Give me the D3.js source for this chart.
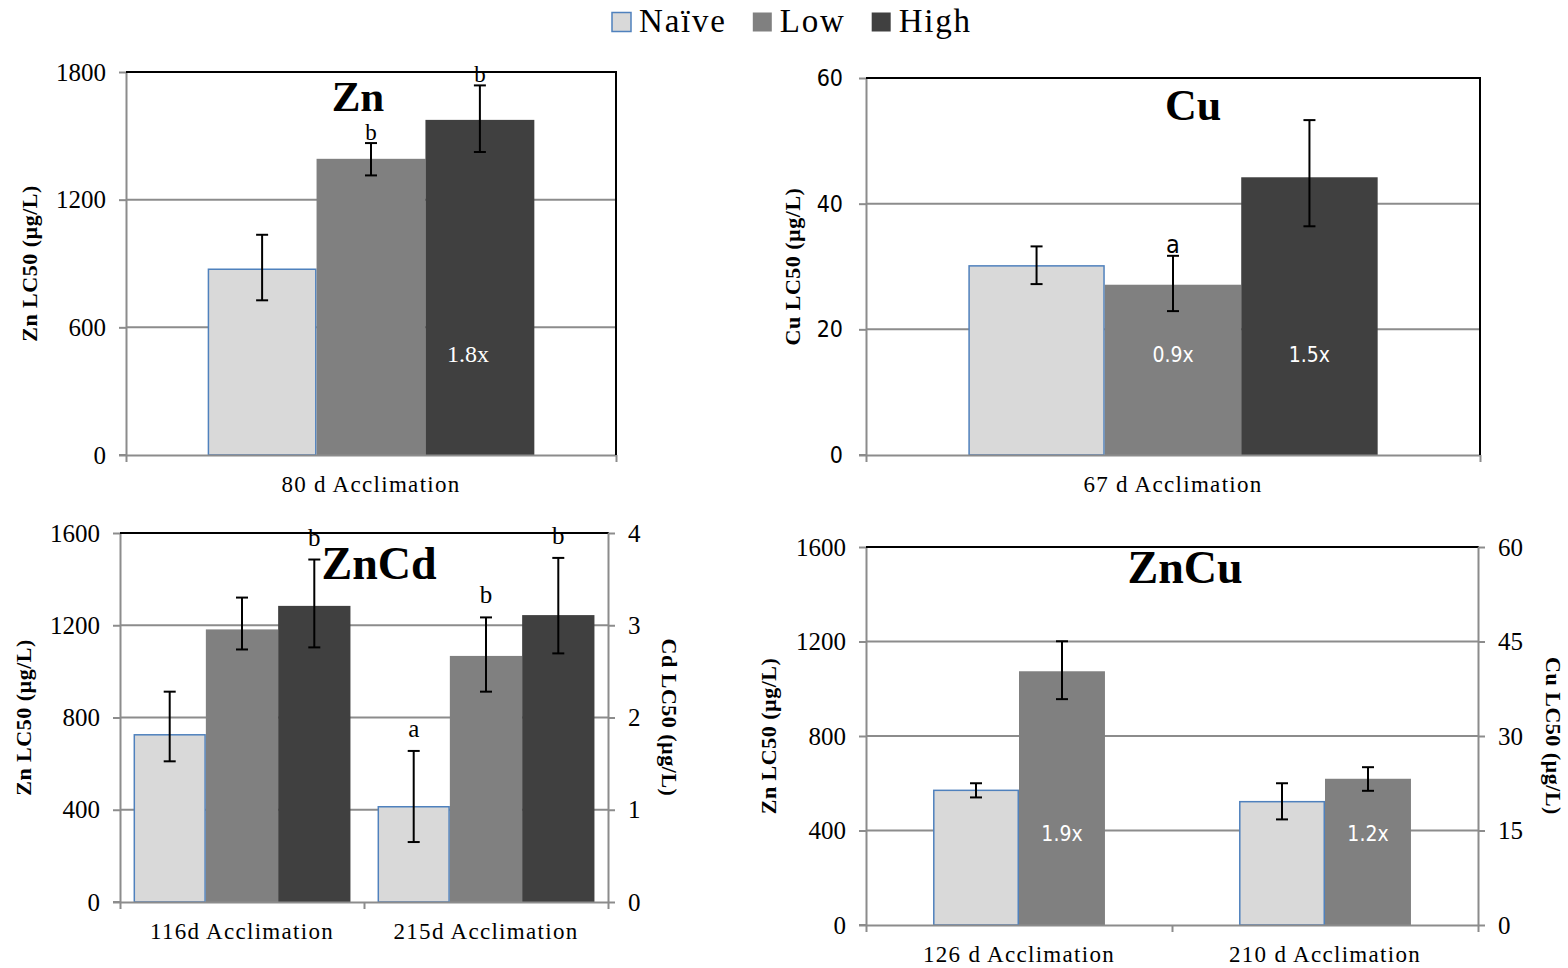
<!DOCTYPE html>
<html>
<head>
<meta charset="utf-8">
<script src="https://cdn.jsdelivr.net/npm/d3@7"></script>
<style>
	body {
		margin: 0;
		background: #fff;
	}
	.serif {
		font-family: "Liberation Serif", "Times New Roman", serif;
	}
	.narrow {
		font-family: "Liberation Sans Narrow", "Arial Narrow", "DejaVu Sans Condensed", sans-serif;
	}
</style>
</head>
<body>
<script>

	// series and colours
	var series = ["Naïve", "Low", "High"];
	var fills = ["#d9d9d9", "#808080", "#404040"];

	// Zn panel (one category, three series)
	var znCats = ["80 d Acclimation"];
	var znVals = [[873, 1392, 1575]];
	var znLo = [[727, 1314, 1424]];
	var znHi = [[1035, 1466, 1737]];
	var znSig = [["", "b", "b"]];
	var znRatio = [["", "", "1.8x"]];
	var znTicks = [0, 600, 1200, 1800];

	// Cu panel
	var cuCats = ["67 d Acclimation"];
	var cuVals = [[30.1, 27.1, 44.2]];
	var cuLo = [[27.2, 22.9, 36.4]];
	var cuHi = [[33.2, 31.7, 53.3]];
	var cuSig = [["", "a", ""]];
	var cuRatio = [["", "0.9x", "1.5x"]];
	var cuTicks = [0, 20, 40, 60];

	// ZnCd panel (two categories, three series)
	var znCdCats = ["116d Acclimation", "215d Acclimation"];
	var znCdVals = [[725, 1182, 1284], [413, 1067, 1244]];
	var znCdLo = [[610, 1095, 1104], [260, 912, 1078]];
	var znCdHi = [[912, 1320, 1485], [655, 1234, 1492]];
	var znCdSig = [["", "", "b"], ["a", "b", "b"]];
	var znCdTicks = [0, 400, 800, 1200, 1600];
	var cdTicks = [0, 1, 2, 3, 4];

	// ZnCu panel (two categories, two series)
	var znCuCats = ["126 d Acclimation", "210 d Acclimation"];
	var znCuVals = [[570, 1074], [522, 619]];
	var znCuLo = [[540, 956], [447, 568]];
	var znCuHi = [[600, 1201], [600, 668]];
	var znCuRatio = [["", "1.9x"], ["", "1.2x"]];
	var znCuTicks = [0, 400, 800, 1200, 1600];
	var cuRightTicks = [0, 15, 30, 45, 60];

	var svg = d3.select("body").append("svg")
		.attr("width", 1568)
		.attr("height", 968);

	var grid = "#8c8c8c";

	function panel(o) {
		var g = svg.append("g");
		var nS = o.vals[0].length;
		var x = d3.scaleBand().domain(o.cats).range([o.x0, o.x1]);
		var bw = x.bandwidth();
		var b = bw / (nS + o.gap);
		var xs = d3.scaleBand().domain(d3.range(nS))
			.range([o.gap * b / 2, o.gap * b / 2 + nS * b]);
		var y = d3.scaleLinear().domain([0, o.yTicks[o.yTicks.length - 1]]).range([o.y1, o.y0]);

		// gridlines
		g.selectAll(".grid").data(o.yTicks.slice(1, -1))
			.enter().append("line")
			.attr("x1", o.x0).attr("x2", o.x1)
			.attr("y1", function(d) { return y(d); })
			.attr("y2", function(d) { return y(d); })
			.attr("stroke", grid).attr("stroke-width", 2);

		// bars
		var rows = [];
		o.vals.forEach(function(r, i) {
			r.forEach(function(v, j) {
				rows.push({c: o.cats[i], s: j, v: v, lo: o.lo[i][j], hi: o.hi[i][j],
					sig: o.sig ? o.sig[i][j] : "", ratio: o.ratio ? o.ratio[i][j] : ""});
			});
		});
		g.selectAll(".bar").data(rows).enter().append("rect")
			.attr("x", function(d) { return x(d.c) + xs(d.s) + (d.s == 0 ? 0.75 : 0); })
			.attr("width", function(d) { return xs.bandwidth() - (d.s == 0 ? 1.5 : 0); })
			.attr("y", function(d) { return y(d.v); })
			.attr("height", function(d) { return y(0) - y(d.v); })
			.attr("fill", function(d) { return fills[d.s]; })
			.attr("stroke", function(d) { return d.s == 0 ? "#4f81bd" : "none"; })
			.attr("stroke-width", 1.5);

		// axes
		var yAxis = g.append("g").attr("transform", "translate(" + o.x0 + ",0)")
			.call(d3.axisLeft(y).tickValues(o.yTicks).tickFormat(d3.format("d"))
				.tickSize(7).tickSizeOuter(0).tickPadding(o.tickPad || 13));
		yAxis.selectAll("path, line").attr("stroke", grid).attr("stroke-width", 2);
		yAxis.selectAll("text").attr("class", o.tickClass || "serif")
			.style("font-size", (o.tickSize || 25) + "px").attr("fill", "#000");

		var xb = d3.scaleLinear().domain([0, o.cats.length]).range([o.x0, o.x1]);
		var xAxis = g.append("g").attr("transform", "translate(0," + o.y1 + ")")
			.call(d3.axisBottom(xb).tickValues(d3.range(o.cats.length + 1)).tickFormat("").tickSize(7).tickSizeOuter(0));
		xAxis.selectAll("path, line").attr("stroke", grid).attr("stroke-width", 2);
		g.append("line").attr("x1", o.x0 - 7).attr("x2", o.x0)
			.attr("y1", o.y1).attr("y2", o.y1).attr("stroke", grid).attr("stroke-width", 2);

		g.selectAll(".cat").data(o.cats).enter().append("text")
			.attr("class", "serif")
			.attr("x", function(d) { return x(d) + bw / 2; })
			.attr("y", o.y1 + 37)
			.attr("text-anchor", "middle")
			.style("font-size", "23px")
			.style("letter-spacing", "1.3px")
			.text(function(d) { return d; });

		// top border
		g.append("line").attr("x1", o.x0).attr("x2", o.x1 + 1)
			.attr("y1", o.y0).attr("y2", o.y0).attr("stroke", "#000").attr("stroke-width", 2);

		if (o.y2Ticks) {
			var y2 = d3.scaleLinear().domain([0, o.y2Ticks[o.y2Ticks.length - 1]]).range([o.y1, o.y0]);
			var rAxis = g.append("g").attr("transform", "translate(" + o.x1 + ",0)")
				.call(d3.axisRight(y2).tickValues(o.y2Ticks).tickFormat(d3.format("d"))
					.tickSize(7).tickSizeOuter(0).tickPadding(13));
			rAxis.selectAll("path, line").attr("stroke", grid).attr("stroke-width", 2);
			rAxis.selectAll("text").attr("class", "serif").style("font-size", "25px").attr("fill", "#000");
			g.append("text").attr("class", "serif")
				.attr("transform", "translate(" + o.r2x + "," + ((o.y0 + o.y1) / 2) + ") rotate(90)")
				.attr("text-anchor", "middle")
				.style("font-size", "22px").style("font-weight", "bold")
				.style("letter-spacing", "0.5px")
				.text(o.y2Title);
		} else {
			g.append("line").attr("x1", o.x1).attr("x2", o.x1)
				.attr("y1", o.y0).attr("y2", o.y1).attr("stroke", "#000").attr("stroke-width", 2);
		}

		// error bars
		var eb = g.selectAll(".err").data(rows).enter().append("g")
			.attr("transform", function(d) { return "translate(" + (x(d.c) + xs(d.s) + xs.bandwidth() / 2) + ",0)"; });
		eb.append("line").attr("y1", function(d) { return y(d.lo); }).attr("y2", function(d) { return y(d.hi); })
			.attr("stroke", "#000").attr("stroke-width", 2);
		eb.append("line").attr("x1", -6).attr("x2", 6)
			.attr("y1", function(d) { return y(d.lo); }).attr("y2", function(d) { return y(d.lo); })
			.attr("stroke", "#000").attr("stroke-width", 2);
		eb.append("line").attr("x1", -6).attr("x2", 6)
			.attr("y1", function(d) { return y(d.hi); }).attr("y2", function(d) { return y(d.hi); })
			.attr("stroke", "#000").attr("stroke-width", 2);

		// significance letters
		eb.filter(function(d) { return d.sig; }).append("text")
			.attr("class", o.sigClass || "serif")
			.attr("y", function(d) { return y(d.hi) - o.sigGap; })
			.attr("text-anchor", "middle")
			.style("font-size", (o.sigSize || 25) + "px")
			.text(function(d) { return d.sig; });

		// fold-change labels
		eb.filter(function(d) { return d.ratio; }).append("text")
			.attr("class", o.ratioClass)
			.attr("x", o.ratioDx || 0)
			.attr("y", o.y1 - o.ratioUp)
			.attr("text-anchor", "middle")
			.attr("fill", "#fff")
			.style("font-size", (o.ratioSize || 21) + "px")
			.text(function(d) { return d.ratio; });

		// panel title
		g.append("text").attr("class", "serif")
			.attr("x", o.titleX).attr("y", o.titleY)
			.attr("text-anchor", "middle")
			.style("font-size", (o.titleSize || 44) + "px").style("font-weight", "bold")
			.text(o.title);

		// left axis title
		g.append("text").attr("class", "serif")
			.attr("transform", "translate(" + o.ytx + "," + ((o.y0 + o.y1) / 2) + ") rotate(-90)")
			.attr("text-anchor", "middle")
			.style("font-size", "22px").style("font-weight", "bold")
			.style("letter-spacing", "0.5px")
			.text(o.yTitle);
	}

	panel({cats: znCats, vals: znVals, lo: znLo, hi: znHi, sig: znSig, ratio: znRatio,
		yTicks: znTicks, x0: 126, x1: 616, y0: 72, y1: 455, gap: 1.5,
		title: "Zn", titleX: 358, titleY: 111, titleSize: 43, ytx: 37, yTitle: "Zn LC50 (µg/L)",
		sigGap: 3, sigSize: 23, ratioUp: 93, ratioClass: "serif", ratioSize: 24, ratioDx: -12});

	panel({cats: cuCats, vals: cuVals, lo: cuLo, hi: cuHi, sig: cuSig, ratio: cuRatio,
		yTicks: cuTicks, x0: 866, x1: 1480, y0: 78, y1: 455, gap: 1.5,
		title: "Cu", titleX: 1193, titleY: 120, ytx: 800, yTitle: "Cu LC50 (µg/L)",
		sigGap: 3, sigClass: "narrow", ratioUp: 93, ratioClass: "narrow", tickClass: "narrow", tickPad: 16, tickSize: 23});

	panel({cats: znCdCats, vals: znCdVals, lo: znCdLo, hi: znCdHi, sig: znCdSig,
		yTicks: znCdTicks, y2Ticks: cdTicks, x0: 120, x1: 608, y0: 533, y1: 902, gap: 0.375,
		title: "ZnCd", titleX: 379, titleY: 579, titleSize: 46, ytx: 31, yTitle: "Zn LC50 (µg/L)",
		r2x: 662, y2Title: "Cd LC50 (µg/L)", sigGap: 14});

	panel({cats: znCuCats, vals: znCuVals, lo: znCuLo, hi: znCuHi, ratio: znCuRatio,
		yTicks: znCuTicks, y2Ticks: cuRightTicks, x0: 866, x1: 1478, y0: 547, y1: 925, gap: 1.56,
		title: "ZnCu", titleX: 1185, titleY: 583, titleSize: 46, ytx: 776, yTitle: "Zn LC50 (µg/L)",
		r2x: 1546, y2Title: "Cu LC50 (µg/L)", ratioUp: 84, ratioClass: "narrow"});

	// legend
	var legend = svg.append("g");
	var lx = 612;
	series.forEach(function(s, i) {
		legend.append("rect")
			.attr("x", lx).attr("y", 12.5).attr("width", 19).attr("height", 19)
			.attr("fill", fills[i])
			.attr("stroke", i == 0 ? "#4f81bd" : "none").attr("stroke-width", 1.5);
		var t = legend.append("text").attr("class", "serif")
			.attr("x", lx + 27).attr("y", 32)
			.style("font-size", "33px").style("letter-spacing", "1.8px")
			.text(s);
		lx = lx + 27 + t.node().getComputedTextLength() + 26;
	});

</script>
</body>
</html>
